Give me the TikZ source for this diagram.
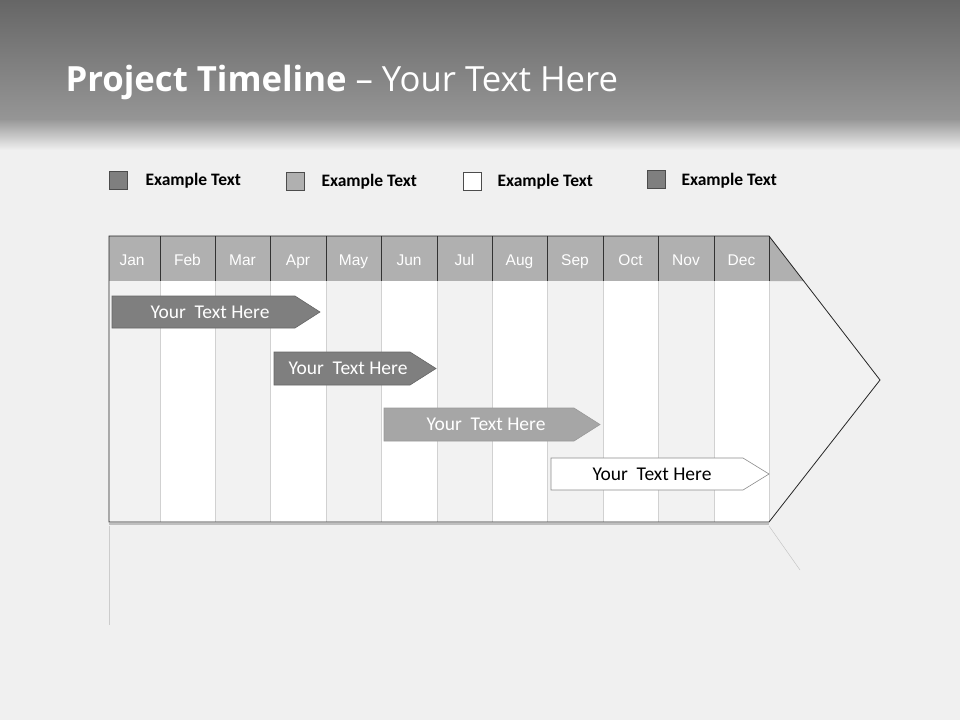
\documentclass[tikz,border=0pt]{standalone}
\usepackage{fontspec}
\setmainfont{Carlito}
\newfontfamily\arialf{Liberation Sans}
\newfontfamily\titlef{Open Sans}
\definecolor{bgl}{HTML}{F0F0F0}
\definecolor{col}{HTML}{F2F2F2}
\definecolor{hdr}{HTML}{B0B0B0}
\definecolor{dk}{HTML}{7F7F7F}
\definecolor{md}{HTML}{A6A6A6}
\tikzset{
 lgbox/.style={draw=black!70,line width=0.6pt},
 lgtext/.style={anchor=west,font=\bfseries\fontsize{17.5}{19}\selectfont},
 mon/.style={anchor=base,font=\arialf\fontsize{15.5}{17}\selectfont,text=white},
 bar/.style={draw=black!60,line width=0.6pt},
 bartext/.style={font=\fontsize{19.5}{21}\selectfont}
}
\begin{document}
\begin{tikzpicture}[x=1pt,y=-1pt]
\useasboundingbox (0,0) rectangle (960,720);
\fill[bgl] (0,0) rectangle (960,720);
\shade[top color=black!60,bottom color=black!40] (0,0) rectangle (960,128);
\shade[top color=black!40,bottom color=bgl] (0,120) rectangle (960,150);
\node[anchor=west,text=white,font=\titlef\fontsize{34.7}{38}\selectfont] (title) at (62,82) {\textbf{Project Timeline} – Your Text Here};
% legend
\node[lgbox,fill=dk,minimum size=18pt,inner sep=0] (l1) at (118.5,180) {};
\node[lgtext] (t1) at (142,181) {Example Text};
\node[lgbox,fill=hdr,minimum size=18pt,inner sep=0] (l2) at (295.5,181) {};
\node[lgtext] (t2) at (318,182) {Example Text};
\node[lgbox,fill=white,minimum size=18pt,inner sep=0] (l3) at (472,181) {};
\node[lgtext] (t3) at (494,182) {Example Text};
\node[lgbox,fill=dk,minimum size=18pt,inner sep=0] (l4) at (656.5,179) {};
\node[lgtext] (t4) at (678,181) {Example Text};
% chart body
\fill[col] (109,236) -- (769,236) -- (880,380) -- (769,522) -- (109,522) -- cycle;
\foreach \a/\b in {160/215,270/326,381/437,492/547,603/658,714/769}{
  \fill[white] (\a,281) rectangle (\b,522);}
\fill[hdr] (109,236) rectangle (769,281);
\fill[hdr] (769,236) -- (804,281) -- (769,281) -- cycle;
\foreach \x in {160,215,270,326,381,437,492,547,603,658,714,769}{
  \draw[black!80,line width=0.8pt] (\x,236) -- (\x,281);
  \draw[black!18,line width=1pt] (\x,281) -- (\x,522);}
\draw[black!85,line width=0.8pt] (109,522) -- (109,236) -- (769,236) -- (880,380) -- (769,522) -- cycle;
\draw[black!25,line width=1.5pt] (109,524) -- (769,524);
% reflection
\draw[black!20] (109,526) -- (109,625);
\draw[black!25] (769,526) -- (800,570);
% months
\foreach \n/\x in {Jan/132,Feb/187.5,Mar/242.5,Apr/298,May/353.5,Jun/409,Jul/464.5,Aug/519.5,Sep/575,Oct/630.5,Nov/686,Dec/741.5}{
  \node[mon] (m\n) at (\x,265) {\n};}
% bars
\draw[bar,fill=dk] (112,296) -- (295,296) -- (320,312) -- (295,328) -- (112,328) -- cycle;
\node[bartext,text=white] (b1) at (210,312) {Your\ \ Text Here};
\draw[bar,fill=dk] (274,352) -- (410,352) -- (436,368.5) -- (410,385) -- (274,385) -- cycle;
\node[bartext,text=white] (b2) at (348,368.5) {Your\ \ Text Here};
\draw[bar,fill=md,draw=black!40] (384,408) -- (574,408) -- (600,424.5) -- (574,441) -- (384,441) -- cycle;
\node[bartext,text=white] (b3) at (486,424.5) {Your\ \ Text Here};
\draw[bar,fill=white,draw=black!45] (551,458) -- (743,458) -- (769,474) -- (743,490) -- (551,490) -- cycle;
\node[bartext,text=black] (b4) at (652,474) {Your\ \ Text Here};
\end{tikzpicture}
\end{document}
